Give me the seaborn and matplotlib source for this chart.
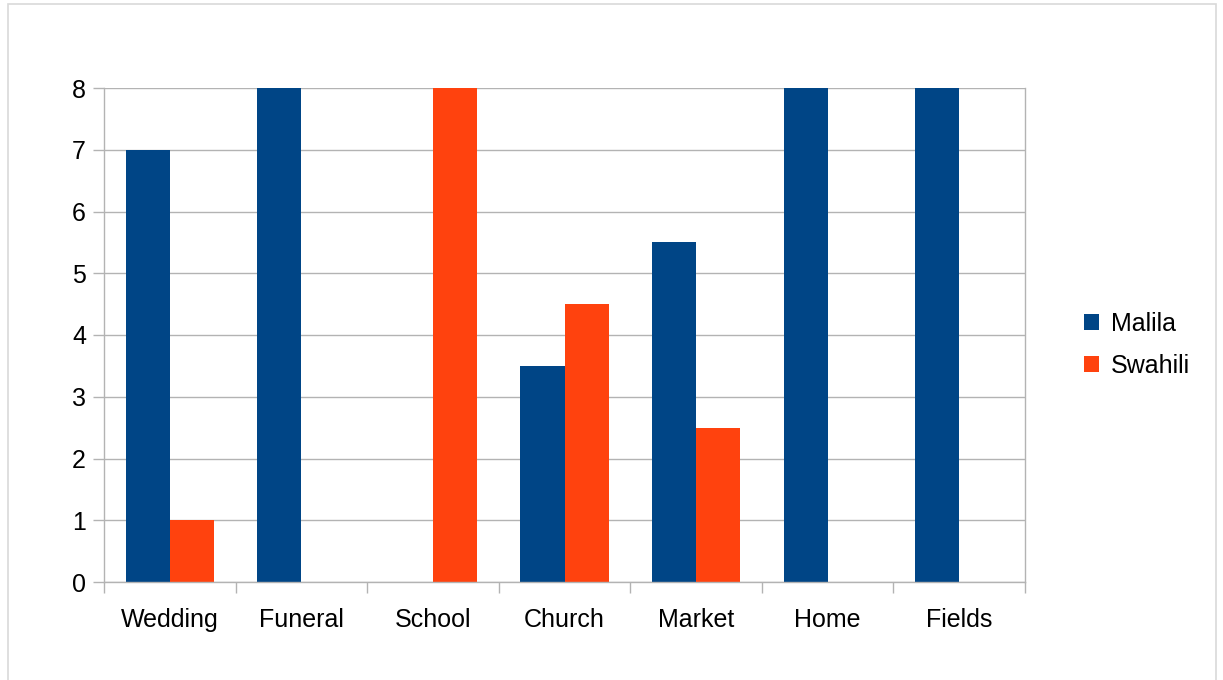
import matplotlib
matplotlib.use("Agg")
import matplotlib.pyplot as plt
from matplotlib.patches import Rectangle
import numpy as np
import pandas as pd
import seaborn as sns

categories = ["Wedding", "Funeral", "School", "Church", "Market", "Home", "Fields"]
malila = [7, 8, 0, 3.5, 5.5, 8, 8]
swahili = [1, 0, 8, 4.5, 2.5, 0, 0]
series_names = ["Malila", "Swahili"]
y_ticks = [0, 1, 2, 3, 4, 5, 6, 7, 8]

df = pd.DataFrame({
    "place": categories * 2,
    "value": malila + swahili,
    "language": [series_names[0]] * len(categories) + [series_names[1]] * len(categories),
})

sns.set_theme(style="white")
plt.rcParams["font.family"] = ["Liberation Sans", "DejaVu Sans"]
plt.rcParams["text.color"] = "black"

grid_col = "#b3b3b3"
fs = 18
fig = plt.figure(figsize=(12.23, 6.8), dpi=100)
ax = fig.add_axes([104 / 1223, 1 - 582 / 680, (1025 - 104) / 1223, (582 - 88) / 680])

sns.barplot(data=df, x="place", y="value", hue="language",
            palette=["#004586", "#ff420e"], width=0.67, gap=0,
            saturation=1, linewidth=0, ax=ax, legend=True)

ax.set_xlim(-0.5, len(categories) - 0.5)
ax.set_ylim(0, 8)
ax.set_yticks(y_ticks)
ax.set_xlabel("")
ax.set_ylabel("")
ax.yaxis.grid(True, color=grid_col, linewidth=1)
ax.set_axisbelow(True)

# category separators as outward ticks
ax.set_xticks(np.arange(-0.5, len(categories), 1.0), minor=True)
ax.tick_params(axis="x", which="major", length=0, pad=19, labelsize=fs, colors="black")
ax.tick_params(axis="x", which="minor", length=8, width=1, color=grid_col, direction="out", bottom=True)
ax.tick_params(axis="y", length=8, width=1, color=grid_col, direction="out", left=True,
               pad=5, labelsize=fs, labelcolor="black")

for side in ["left", "right", "bottom"]:
    ax.spines[side].set_visible(True)
    ax.spines[side].set_color(grid_col)
    ax.spines[side].set_linewidth(1)
ax.spines["top"].set_visible(False)

handles, labels = ax.get_legend_handles_labels()
ax.legend_.remove()
ax.legend(handles, labels, loc="center left", bbox_to_anchor=(1.04, 0.48),
          frameon=False, fontsize=fs, handlelength=0.6, handleheight=0.6,
          handletextpad=0.45, labelspacing=0.7, labelcolor="black")

# outer chart border
fig.patches.append(Rectangle((8 / 1223, -0.02), (1216 - 8) / 1223, 1 - 4 / 680 + 0.02,
                             transform=fig.transFigure, fill=False,
                             edgecolor="#d9d9d9", linewidth=1.2))

fig.savefig("out.png", dpi=100, facecolor="white")
